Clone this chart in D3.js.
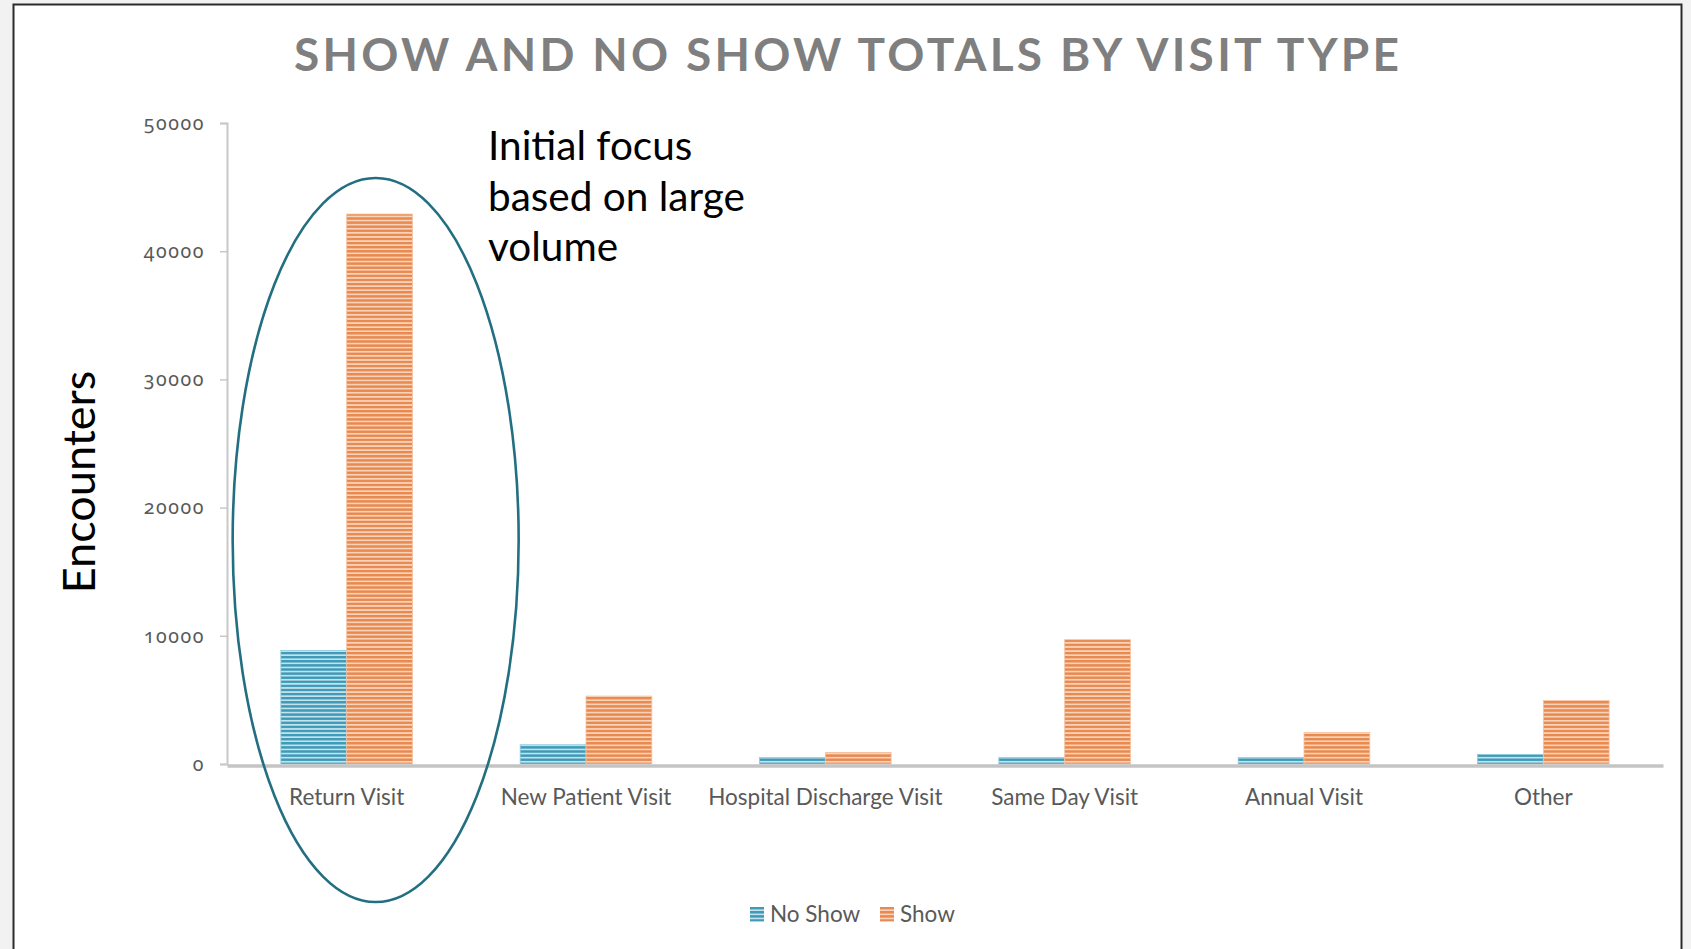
<!DOCTYPE html>
<html>
<head>
<meta charset="utf-8">
<script src="https://cdn.jsdelivr.net/npm/d3@7"></script>
<style>
  html, body { margin: 0; padding: 0; background: #f2f2f2; }
  svg { display: block; }
</style>
</head>
<body>
<div class="chart"></div>
<script>
// Show / No Show totals by visit type

var categories = ["Return Visit", "New Patient Visit", "Hospital Discharge Visit", "Same Day Visit", "Annual Visit", "Other"];
var seriesNames = ["No Show", "Show"];
var noShowValues = [8850, 1500, 500, 500, 500, 750];
var showValues = [42900, 5300, 900, 9700, 2450, 4950];
var yTicks = [0, 10000, 20000, 30000, 40000, 50000];

var svgWidth = 1691;
var svgHeight = 949;

// chart area (plot box)
var margin = { top: 123, right: 28, bottom: 185, left: 227 };
var width = svgWidth - margin.left - margin.right;
var height = svgHeight - margin.top - margin.bottom;

var svg = d3.select(".chart")
  .append("svg")
  .attr("width", svgWidth)
  .attr("height", svgHeight);

// Stripe patterns for the bars
var defs = svg.append("defs");
function stripe(id, dark, light) {
  var p = defs.append("pattern")
    .attr("id", id)
    .attr("patternUnits", "userSpaceOnUse")
    .attr("width", 8)
    .attr("height", 4.1);
  p.append("rect").attr("width", 8).attr("height", 4.1).attr("fill", light);
  p.append("rect").attr("width", 8).attr("height", 2.4).attr("fill", dark);
}
stripe("stripeBlue", "#3d9ab8", "#c4e2eb");
stripe("stripeOrange", "#e8894f", "#f8d3ba");

var fills = { "No Show": "url(#stripeBlue)", "Show": "url(#stripeOrange)" };
var edges = { "No Show": "#8ccbdc", "Show": "#f6c3a0" };

// page frame
svg.append("rect")
  .attr("x", 13.5)
  .attr("y", 4.5)
  .attr("width", 1668)
  .attr("height", 980)
  .attr("fill", "#ffffff")
  .attr("stroke", "#2b2b2b")
  .attr("stroke-width", 2);

// Title
svg.append("text")
  .attr("x", 846.5)
  .attr("y", 71)
  .attr("text-anchor", "middle")
  .attr("textLength", 1105)
  .attr("lengthAdjust", "spacing")
  .style("font-family", "Lato, 'Open Sans', sans-serif")
  .style("font-weight", "bold")
  .style("font-size", "46px")
  .attr("fill", "#7f7f7f")
  .text("SHOW AND NO SHOW TOTALS BY VISIT TYPE");

var chartGroup = svg.append("g")
  .attr("transform", `translate(${margin.left}, ${margin.top})`);

// Scales
var x0 = d3.scaleBand()
  .domain(categories)
  .range([0, width])
  .paddingInner(0.45)
  .paddingOuter(0.225);

var x1 = d3.scaleBand()
  .domain(seriesNames)
  .range([0, x0.bandwidth()]);

var yLinearScale = d3.scaleLinear()
  .domain([0, 50000])
  .range([height, 0]);

// Y axis
var leftAxis = d3.axisLeft(yLinearScale)
  .tickValues(yTicks)
  .tickSize(7)
  .tickPadding(15)
  .tickFormat(d3.format("d"));

var yAxis = chartGroup.append("g")
  .classed("y-axis", true)
  .call(leftAxis);
yAxis.select(".domain").attr("stroke", "#c8c8c8").attr("stroke-width", 2);
yAxis.selectAll(".tick line").attr("stroke", "#c8c8c8").attr("stroke-width", 1.5);
yAxis.selectAll(".tick text")
  .style("font-family", "'Noto Sans', Lato, sans-serif")
  .style("font-variant-numeric", "oldstyle-nums")
  .style("font-size", "19.5px")
  .style("letter-spacing", "1.6px")
  .attr("fill", "#595959");

// Bars
var data = categories.map(function(c, i) {
  return { category: c, values: [
    { name: "No Show", value: noShowValues[i] },
    { name: "Show", value: showValues[i] }
  ] };
});

var groups = chartGroup.selectAll(".barGroup")
  .data(data)
  .enter()
  .append("g")
  .attr("class", "barGroup")
  .attr("transform", d => `translate(${x0(d.category)}, 0)`);

groups.selectAll("rect")
  .data(d => d.values)
  .enter()
  .append("rect")
  .attr("x", d => x1(d.name))
  .attr("y", d => yLinearScale(d.value))
  .attr("width", x1.bandwidth())
  .attr("height", d => height - yLinearScale(d.value))
  .attr("fill", d => fills[d.name])
  .attr("stroke", d => edges[d.name])
  .attr("stroke-width", 0.8);

// X axis (thick baseline, no ticks)
var bottomAxis = d3.axisBottom(x0).tickSize(0).tickPadding(24);
var xAxis = chartGroup.append("g")
  .classed("x-axis", true)
  .attr("transform", `translate(0, ${height + 1.5})`)
  .call(bottomAxis);
xAxis.select(".domain").attr("stroke", "#c4c4c4").attr("stroke-width", 3.5);
xAxis.selectAll(".tick text")
  .style("font-family", "Lato, 'Open Sans', sans-serif")
  .style("font-size", "22.5px")
  .attr("fill", "#595959");

// Y axis title
svg.append("text")
  .attr("transform", "translate(95, 482) rotate(-90)")
  .attr("text-anchor", "middle")
  .style("font-family", "Lato, 'Open Sans', sans-serif")
  .style("font-size", "45px")
  .attr("fill", "#000000")
  .text("Encounters");

// Annotation
var noteLines = ["Initial focus", "based on large", "volume"];
svg.append("text")
  .attr("x", 488)
  .attr("y", 160)
  .style("font-family", "Lato, 'Open Sans', sans-serif")
  .style("font-size", "40.5px")
  .attr("fill", "#000000")
  .selectAll("tspan")
  .data(noteLines)
  .enter()
  .append("tspan")
  .attr("x", 488)
  .attr("dy", (d, i) => i === 0 ? 0 : 50.7)
  .text(d => d);

// Ellipse around Return Visit
svg.append("ellipse")
  .attr("cx", x0("Return Visit") + margin.left + x0.bandwidth() / 2 + 29)
  .attr("cy", 540)
  .attr("rx", 143)
  .attr("ry", 362)
  .attr("fill", "none")
  .attr("stroke", "#236f82")
  .attr("stroke-width", 2.6);

// Legend
var legendPos = [{ name: "No Show", x: 750 }, { name: "Show", x: 880 }];
var legend = svg.selectAll(".legendItem")
  .data(legendPos)
  .enter()
  .append("g")
  .attr("class", "legendItem")
  .attr("transform", d => `translate(${d.x}, 907)`);
legend.append("rect")
  .attr("width", 14)
  .attr("height", 14.5)
  .attr("fill", d => fills[d.name]);
legend.append("text")
  .attr("x", 20)
  .attr("y", 15)
  .style("font-family", "Lato, 'Open Sans', sans-serif")
  .style("font-size", "22.5px")
  .attr("fill", "#595959")
  .text(d => d.name);
</script>
</body>
</html>
